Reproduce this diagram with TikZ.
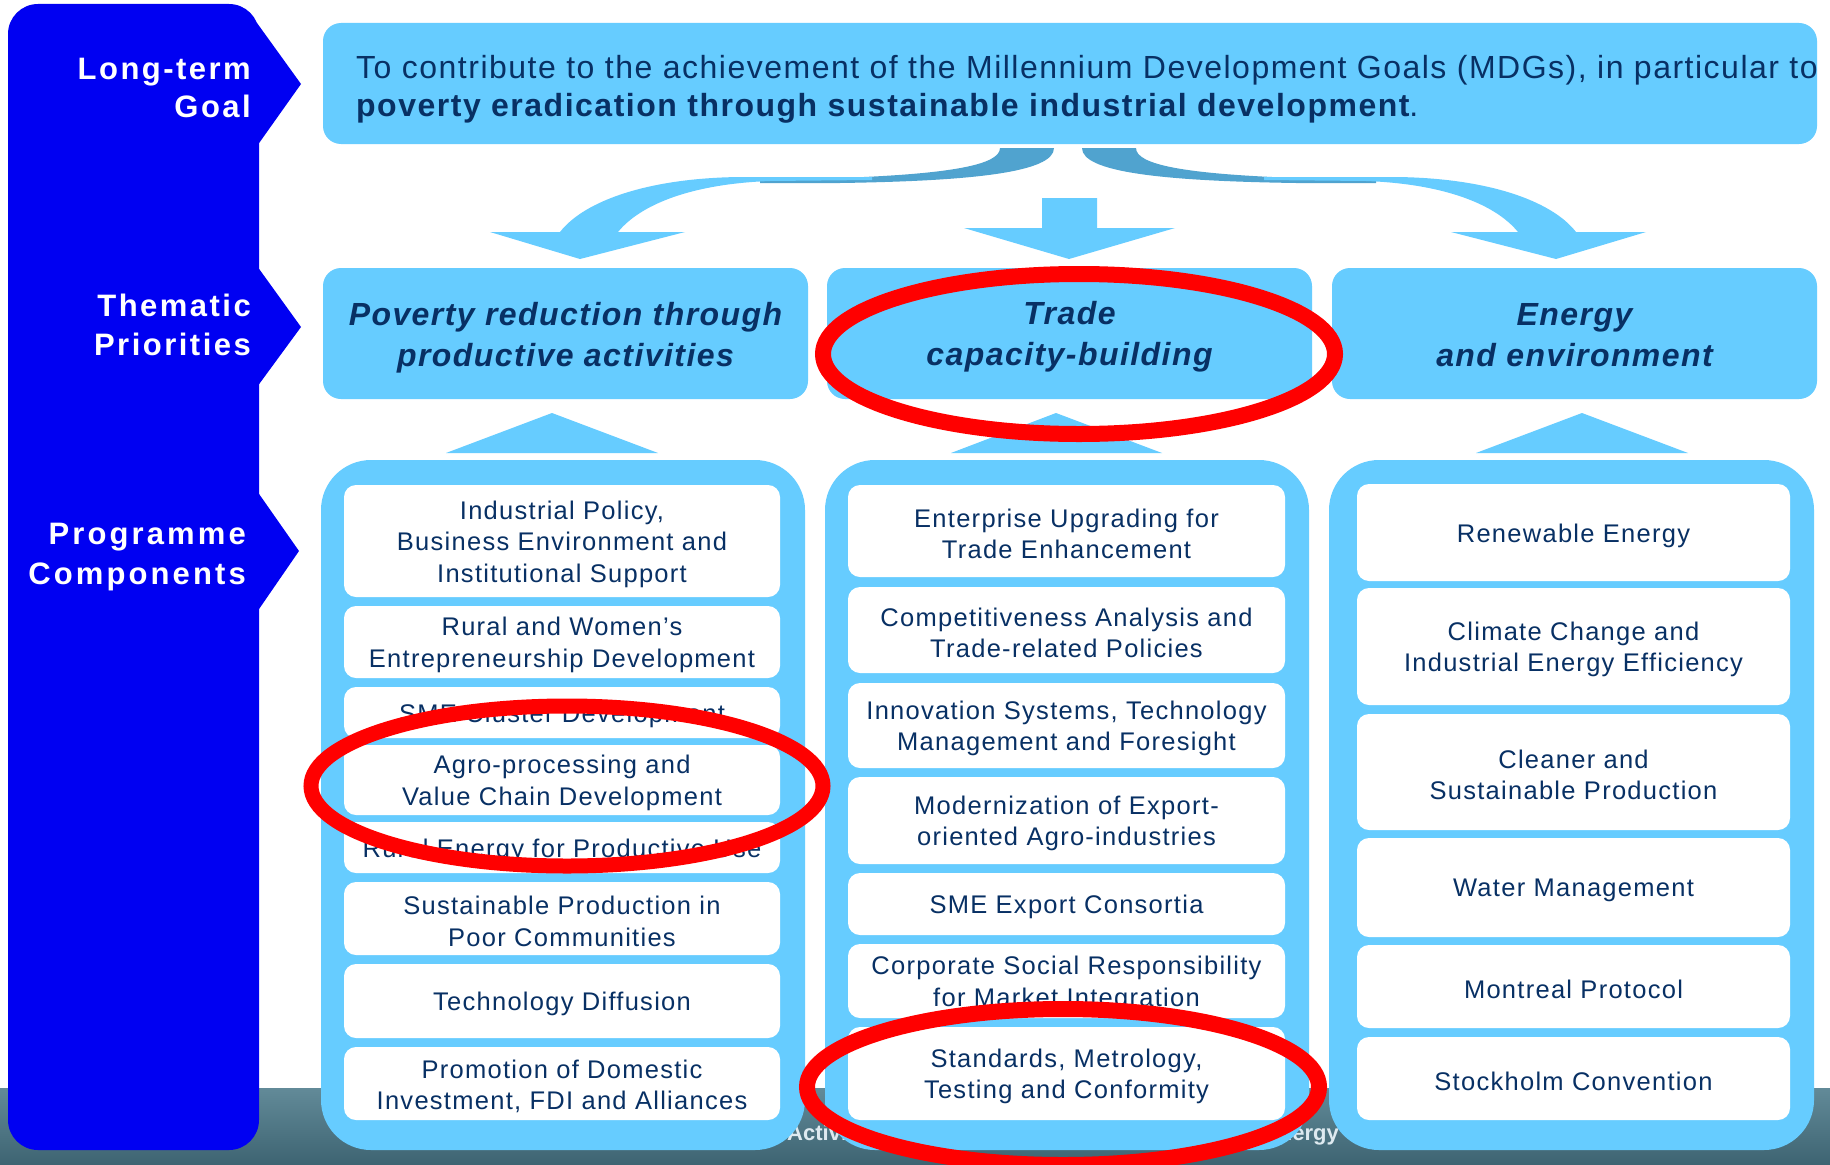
\documentclass[tikz,border=0pt]{standalone}
\usepackage{fontspec}
\setmainfont{Liberation Sans}
\newfontfamily\goalfont{Liberation Sans}[LetterSpace=4.7]
\newfontfamily\boxfont{Liberation Sans}[LetterSpace=5]
\newfontfamily\themefont{Liberation Sans}[LetterSpace=4.5]
\newfontfamily\lblfont{Liberation Sans}[LetterSpace=8]
\newfontfamily\lblwidefont{Liberation Sans}[LetterSpace=10]
\definecolor{bannerblue}{RGB}{0,0,242}
\definecolor{lblue}{RGB}{102,204,255}
\definecolor{dblue}{RGB}{80,163,207}
\definecolor{navy}{RGB}{8,48,100}
\definecolor{bandtop}{RGB}{98,138,152}
\definecolor{bandbot}{RGB}{62,100,114}
\definecolor{bandtext}{RGB}{222,234,240}
\newcommand\wb[5]{%
  \node[wbox, minimum width=#3, minimum height=#4] (#1) at #2 {};
  \node[wtext, yshift=-3pt] (#1t) at (#1.center) {#5};}
\begin{document}
\begin{tikzpicture}[x=1pt,y=-1pt,
  wbox/.style={fill=white, rounded corners=12pt, inner sep=0pt},
  wtext/.style={inner sep=0pt, align=center, text=navy,
    font=\boxfont\fontsize{25.5}{31.5}\selectfont},
  colbox/.style={fill=lblue, rounded corners=50pt, inner sep=0pt},
  thbox/.style={fill=lblue, rounded corners=18pt, inner sep=0pt, minimum width=485pt, minimum height=131pt},
  thtext/.style={inner sep=0pt, align=center, text=navy,
    font=\themefont\bfseries\itshape\fontsize{32}{41}\selectfont},
  lbl/.style={text=white, align=right, inner sep=0pt, anchor=east,
    font=\lblfont\bfseries\fontsize{31}{38.5}\selectfont},
  goaltext/.style={text=navy, inner sep=0pt, anchor=base west,
    font=\goalfont\fontsize{32}{38}\selectfont},
  ring/.style={draw=red, line width=15pt},
  bandlbl/.style={text=bandtext, inner sep=0pt, font=\bfseries\fontsize{22}{26}\selectfont}]
\useasboundingbox (0,0) rectangle (1830,1164);
\clip (0,0) rectangle (1830,1164);
\fill[white] (0,0) rectangle (1830,1164);

% background band at the bottom
\shade[top color=bandtop, bottom color=bandbot] (0,1088) rectangle (1830,1164);
\node[bandlbl, anchor=base west] (bandA) at (787,1140) {Activities};
\node[bandlbl, anchor=base east] (bandB) at (1339,1140) {Energy};

% left banner
\fill[bannerblue, rounded corners=30pt] (8,4) rectangle (259,1150);
\fill[bannerblue] (257,23) -- (301,84) -- (257,146) -- cycle;
\fill[bannerblue] (257,266) -- (301,327) -- (257,387) -- cycle;
\fill[bannerblue] (257,491) -- (299,551) -- (257,612) -- cycle;
\node[lbl] (lblA) at (251,88) {Long-term\\Goal};
\node[lbl] (lblB) at (251,325) {Thematic\\Priorities};
\node[lbl, font=\lblwidefont\bfseries\fontsize{31}{39.5}\selectfont] (lblC) at (246,557) {Programme\\Components};

% goal
\node[fill=lblue, rounded corners=18pt, inner sep=0pt, minimum width=1494pt, minimum height=121pt] (goal) at (1070,83.5) {};
\node[goaltext] (g1) at (356,78) {To contribute to the achievement of the Millennium Development Goals (MDGs), in particular to};
\node[goaltext] (g2) at (356,116) {\bfseries poverty eradication through sustainable industrial development\mdseries.};

% arrows goal -> priorities
\fill[lblue] (1042,198) -- (1097,198) -- (1097,228) -- (1175,228) -- (1069,259) -- (964,228) -- (1042,228) -- cycle;
\foreach \s/\k in {0/1,2136/-1}{
  \begin{scope}[xshift=\s pt, xscale=\k]
    \fill[dblue] (1000,148) -- (1054,148) .. controls (1054,172) and (975,181) .. (840,183)
      -- (760,183) -- (760,179) -- (840,178) .. controls (950,174) and (1000,165) .. (1000,148) -- cycle;
    \fill[lblue] (872,177) -- (740,177) .. controls (650,178) and (585,200) .. (560,232)
      -- (490,232) -- (580,259) -- (685,232) -- (618,232)
      .. controls (640,205) and (690,184) .. (770,181) -- (872,180) -- cycle;
  \end{scope}
}

% thematic priorities
\node[thbox] (t1) at (565.5,333.5) {};
\node[thtext, yshift=-4pt] (t1t) at (t1.center) {Poverty reduction through\\productive activities};
\node[thbox] (t2) at (1069.5,333.5) {};
\node[thtext, yshift=-3.5pt] (t2t) at (t2.center) {Trade\\capacity-building};
\node[thbox] (t3) at (1574.5,333.5) {};
\node[thtext, yshift=-1.5pt] (t3t) at (t3.center) {Energy\\and environment};

% up arrows
\fill[lblue] (446,453) -- (552,413) -- (658,453) -- cycle;
\fill[lblue] (951,453) -- (1056,413) -- (1162,453) -- cycle;
\fill[lblue] (1476,453) -- (1582,413) -- (1688,453) -- cycle;

% columns
\node[colbox, minimum width=484pt, minimum height=690pt] (col1) at (563,805) {};
\node[colbox, minimum width=484pt, minimum height=690pt] (col2) at (1067,805) {};
\node[colbox, minimum width=485pt, minimum height=690pt] (col3) at (1571.5,805) {};

% column 1
\wb{b1}{(562,541)}{436pt}{112pt}{Industrial Policy,\\Business Environment and\\Institutional Support}
\wb{b2}{(562,642)}{436pt}{72pt}{Rural and Women’s\\Entrepreneurship Development}
\wb{b3}{(562,712.5)}{436pt}{51pt}{SME Cluster Development}
\wb{b4}{(562,780)}{436pt}{70pt}{Agro-processing and\\Value Chain Development}
\wb{b5}{(562,847.5)}{436pt}{51pt}{Rural Energy for Productive Use}
\wb{b6}{(562,918.5)}{436pt}{73pt}{Sustainable Production in\\Poor Communities}
\wb{b7}{(562,1001)}{436pt}{74pt}{Technology Diffusion}
\wb{b8}{(562,1083.5)}{436pt}{73pt}{Promotion of Domestic\\Investment, FDI and Alliances}

% column 2
\wb{c1}{(1066.5,531)}{437pt}{92pt}{Enterprise Upgrading for\\Trade Enhancement}
\wb{c2}{(1066.5,630)}{437pt}{86pt}{Competitiveness Analysis and\\Trade-related Policies}
\wb{c3}{(1066.5,725.5)}{437pt}{85pt}{Innovation Systems, Technology\\Management and Foresight}
\wb{c4}{(1066.5,820.5)}{437pt}{87pt}{Modernization of Export-\\oriented Agro-industries}
\wb{c5}{(1066.5,904)}{437pt}{62pt}{SME Export Consortia}
\wb{c6}{(1066.5,981)}{437pt}{74pt}{Corporate Social Responsibility\\for Market Integration}
\wb{c7}{(1066.5,1073.5)}{437pt}{93pt}{Standards, Metrology,\\Testing and Conformity}

% column 3
\wb{d1}{(1573.5,532.5)}{433pt}{97pt}{Renewable Energy}
\wb{d2}{(1573.5,646.5)}{433pt}{117pt}{Climate Change and\\Industrial Energy Efficiency}
\wb{d3}{(1573.5,772)}{433pt}{116pt}{Cleaner and\\Sustainable Production}
\wb{d4}{(1573.5,887.5)}{433pt}{99pt}{Water Management}
\wb{d5}{(1573.5,986.5)}{433pt}{83pt}{Montreal Protocol}
\wb{d6}{(1573.5,1078.5)}{433pt}{83pt}{Stockholm Convention}

% red rings
\draw[ring] (567,786) ellipse [x radius=256pt, y radius=80pt];
\draw[ring, line width=16pt] (1079,354) ellipse [x radius=256pt, y radius=80pt];
\draw[ring, line width=16pt] (1063,1087) ellipse [x radius=256pt, y radius=78pt];
\end{tikzpicture}
\end{document}
